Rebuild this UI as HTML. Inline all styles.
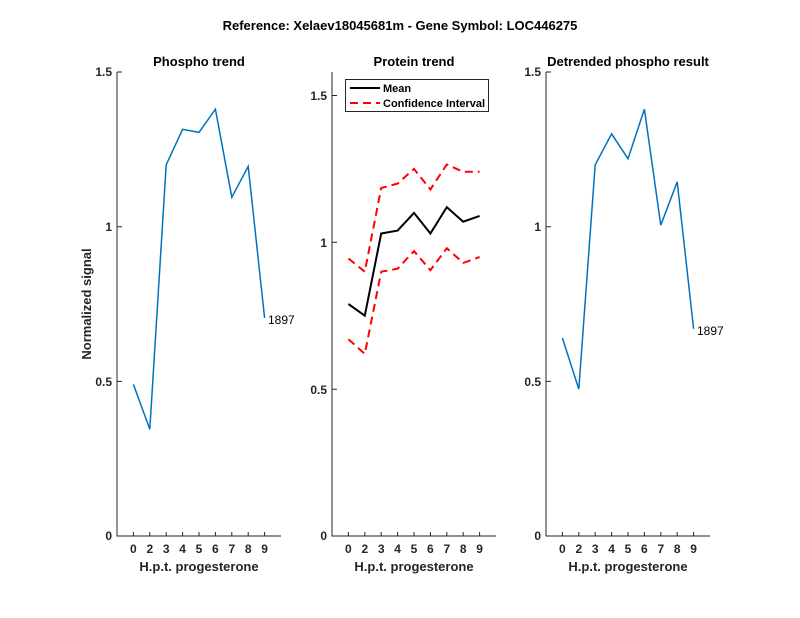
<!DOCTYPE html>
<html><head><style>body{margin:0;background:#fff}svg{display:block}</style></head><body>
<svg width="800" height="618" xmlns="http://www.w3.org/2000/svg" font-family="Liberation Sans, sans-serif">
<rect width="800" height="618" fill="#fff"/>
<text x="400" y="30" font-size="13" font-weight="bold" text-anchor="middle">Reference:  Xelaev18045681m - Gene Symbol:  LOC446275</text>
<g stroke="#262626" stroke-width="1" fill="none">
<path d="M117,72V536H281"/><path d="M332,72V536H496"/><path d="M546,72V536H710"/>
<path d="M117,72h5M117,226.7h5M117,381.4h5M117,536h5"/>
<path d="M332,95.5h5M332,242.3h5M332,389.2h5M332,536h5"/>
<path d="M546,72h5M546,226.7h5M546,381.4h5M546,536h5"/>
</g>
<g stroke="#262626" stroke-width="1">
<path d="M133.4,536v-4M149.8,536v-4M166.2,536v-4M182.6,536v-4M199,536v-4M215.4,536v-4M231.8,536v-4M248.2,536v-4M264.6,536v-4"/>
<path d="M348.4,536v-4M364.8,536v-4M381.2,536v-4M397.6,536v-4M414,536v-4M430.4,536v-4M446.8,536v-4M463.2,536v-4M479.6,536v-4"/>
<path d="M562.4,536v-4M578.8,536v-4M595.2,536v-4M611.6,536v-4M628,536v-4M644.4,536v-4M660.8,536v-4M677.2,536v-4M693.6,536v-4"/>
</g>
<g font-size="12" font-weight="bold" fill="#262626" text-anchor="end">
<text x="112" y="76">1.5</text><text x="112" y="231">1</text><text x="112" y="386">0.5</text><text x="112" y="540">0</text>
<text x="327" y="100">1.5</text><text x="327" y="247">1</text><text x="327" y="394">0.5</text><text x="327" y="540">0</text>
<text x="541" y="76">1.5</text><text x="541" y="231">1</text><text x="541" y="386">0.5</text><text x="541" y="540">0</text>
</g>
<g font-size="12" font-weight="bold" fill="#262626" text-anchor="middle">
<text x="133.4" y="553">0</text><text x="149.8" y="553">2</text><text x="166.2" y="553">3</text><text x="182.6" y="553">4</text><text x="199" y="553">5</text><text x="215.4" y="553">6</text><text x="231.8" y="553">7</text><text x="248.2" y="553">8</text><text x="264.6" y="553">9</text>
<text x="348.4" y="553">0</text><text x="364.8" y="553">2</text><text x="381.2" y="553">3</text><text x="397.6" y="553">4</text><text x="414" y="553">5</text><text x="430.4" y="553">6</text><text x="446.8" y="553">7</text><text x="463.2" y="553">8</text><text x="479.6" y="553">9</text>
<text x="562.4" y="553">0</text><text x="578.8" y="553">2</text><text x="595.2" y="553">3</text><text x="611.6" y="553">4</text><text x="628" y="553">5</text><text x="644.4" y="553">6</text><text x="660.8" y="553">7</text><text x="677.2" y="553">8</text><text x="693.6" y="553">9</text>
<text x="199" y="571" font-size="13">H.p.t. progesterone</text>
<text x="414" y="571" font-size="13">H.p.t. progesterone</text>
<text x="628" y="571" font-size="13">H.p.t. progesterone</text>
<text transform="translate(91,304) rotate(-90)" font-size="13">Normalized signal</text>
</g>
<g font-size="13" font-weight="bold" text-anchor="middle">
<text x="199" y="66">Phospho trend</text><text x="414" y="66">Protein trend</text><text x="628" y="66">Detrended phospho result</text>
</g>
<g fill="none" stroke-width="1.5">
<polyline stroke="#0072bd" points="133.4,384.4 149.8,429.3 166.2,164.8 182.6,129.3 199,132.4 215.4,109.2 231.8,197.3 248.2,166.4 264.6,317.9"/>
<polyline stroke="#0072bd" points="562.4,338 578.8,389.1 595.2,164.8 611.6,133.9 628,158.7 644.4,109.2 660.8,225.2 677.2,181.9 693.6,328.8"/>
<polyline stroke="#000" stroke-width="2" points="348.4,304 364.8,315.7 381.2,233.5 397.6,230.6 414,212.9 430.4,233.5 446.8,207.1 463.2,221.7 479.6,215.9"/>
<polyline stroke="#f00" stroke-width="2" stroke-dasharray="8,5" points="348.4,258.5 364.8,271.7 381.2,188 397.6,183.6 414,168.9 430.4,189.4 446.8,164.5 463.2,171.8 479.6,171.8"/>
<polyline stroke="#f00" stroke-width="2" stroke-dasharray="8,5" points="348.4,339.2 364.8,353.9 381.2,271.7 397.6,268.7 414,251.1 430.4,270.2 446.8,248.2 463.2,262.9 479.6,257"/>
</g>
<text x="268" y="324" font-size="12">1897</text>
<text x="697" y="335" font-size="12">1897</text>
<rect x="345.5" y="79.5" width="143" height="32" fill="#fff" stroke="#262626"/>
<line x1="350" y1="88" x2="380" y2="88" stroke="#000" stroke-width="2"/>
<line x1="350" y1="103" x2="380" y2="103" stroke="#f00" stroke-width="2" stroke-dasharray="8,5"/>
<g font-size="11" font-weight="bold"><text x="383" y="92">Mean</text><text x="383" y="107">Confidence Interval</text></g>
</svg>
</body></html>
